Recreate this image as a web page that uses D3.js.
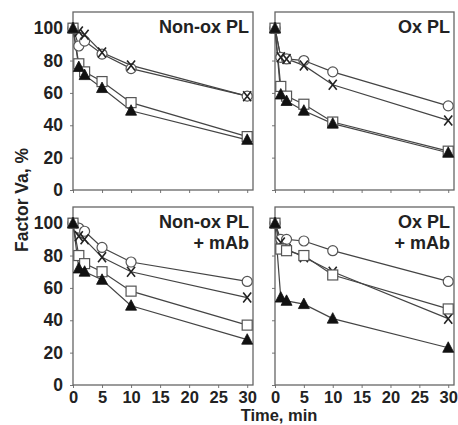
<!DOCTYPE html>
<html>
<head>
<meta charset="utf-8">
<script src="https://cdn.jsdelivr.net/npm/d3@7"></script>
<style>
  body { margin: 0; background: #fff; }
  svg text { font-family: "Liberation Sans", Arial, sans-serif; font-weight: bold; fill: #222; }
</style>
</head>
<body>
<script>
// time points (min)
const times = [0, 1, 2, 5, 10, 30];

const panelTitles = [["Non-ox PL"], ["Ox PL"], ["Non-ox PL", "+ mAb"], ["Ox PL", "+ mAb"]];

// Factor Va remaining, % — one array per marker per panel
const nonOxCircle   = [100, 89, 92, 84, 75, 58];
const nonOxX        = [100, 98, 96, 85, 77, 58];
const nonOxSquare   = [100, 78, 73, 67, 54, 33];
const nonOxTriangle = [100, 76, 71, 63, 49, 31];

const oxCircle   = [100, 82, 81, 80, 73, 52];
const oxX        = [100, 82, 81, 77, 65, 43];
const oxSquare   = [100, 64, 58, 53, 42, 24];
const oxTriangle = [100, 59, 55, 49, 41, 23];

const nonOxMabCircle   = [100, 97, 95, 85, 76, 64];
const nonOxMabX        = [100, 92, 90, 79, 70, 54];
const nonOxMabSquare   = [100, 80, 75, 70, 58, 37];
const nonOxMabTriangle = [100, 72, 70, 65, 49, 28];

const oxMabCircle   = [100, 90, 90, 89, 83, 64];
const oxMabX        = [100, 88, 84, 79, 70, 41];
const oxMabSquare   = [100, 84, 83, 80, 68, 47];
const oxMabTriangle = [100, 54, 52, 50, 41, 23];

const yTicks = [0, 20, 40, 60, 80, 100];
const xTicks = [0, 5, 10, 15, 20, 25, 30];

const panels = [
  {title: panelTitles[0], series: [nonOxCircle, nonOxX, nonOxSquare, nonOxTriangle]},
  {title: panelTitles[1], series: [oxCircle, oxX, oxSquare, oxTriangle]},
  {title: panelTitles[2], series: [nonOxMabCircle, nonOxMabX, nonOxMabSquare, nonOxMabTriangle]},
  {title: panelTitles[3], series: [oxMabCircle, oxMabX, oxMabSquare, oxMabTriangle]}
];
const markers = ["circle", "x", "square", "triangle"];

const width = 458, height = 425;
const cols = [[73, 253], [275, 454]];
const rows = [[12, 190], [207, 385]];
const ink = "#444";

const svg = d3.select("body").append("svg")
    .attr("width", width)
    .attr("height", height);

panels.forEach((p, i) => {
  const c = i % 2, r = Math.floor(i / 2);
  const x = d3.scaleLinear().domain([0, 31]).range(cols[c]);
  const y = d3.scaleLinear().domain([0, 110]).range([rows[r][1], rows[r][0]]);
  const g = svg.append("g");

  // x axis
  const xa = g.append("g")
      .attr("transform", "translate(0," + rows[r][1] + ")")
      .call(d3.axisBottom(x).tickValues(xTicks).tickSize(3).tickPadding(3)
        .tickFormat(r === 1 ? d3.format("d") : ""));
  xa.select(".domain").remove();
  xa.selectAll("line").attr("stroke", "#777");
  xa.selectAll("text").attr("font-size", 16.5).attr("fill", "#222");

  // y axis
  const ya = g.append("g")
      .attr("transform", "translate(" + cols[c][0] + ",0)")
      .call(d3.axisLeft(y).tickValues(yTicks).tickSize(3).tickPadding(7)
        .tickFormat(c === 0 ? d3.format("d") : ""));
  ya.select(".domain").remove();
  ya.selectAll("line").attr("stroke", "#777");
  ya.selectAll("text").attr("font-size", 17.5).attr("fill", "#222");

  // frame
  g.append("rect")
      .attr("x", cols[c][0]).attr("y", rows[r][0])
      .attr("width", cols[c][1] - cols[c][0])
      .attr("height", rows[r][1] - rows[r][0])
      .attr("fill", "none")
      .attr("stroke", "#666")
      .attr("stroke-width", 1.3);

  // title
  p.title.forEach((t, k) => {
    g.append("text")
        .attr("x", cols[c][1] - 4)
        .attr("y", rows[r][0] + 21 + k * 21)
        .attr("text-anchor", "end")
        .attr("font-size", 18)
        .text(t);
  });

  const line = d3.line().x((d, j) => x(times[j])).y(d => y(d));

  p.series.forEach(vals => {
    g.append("path")
        .datum(vals)
        .attr("d", line)
        .attr("fill", "none")
        .attr("stroke", ink)
        .attr("stroke-width", 1.2);
  });

  p.series.forEach((vals, s) => {
    const m = markers[s];
    const pts = g.append("g").selectAll("g")
      .data(vals)
      .join("g")
        .attr("transform", (d, j) => "translate(" + x(times[j]) + "," + y(d) + ")");
    if (m === "circle") {
      pts.append("circle").attr("r", 5)
          .attr("fill", "#fff").attr("stroke", "#555").attr("stroke-width", 1.2);
    } else if (m === "square") {
      pts.append("rect").attr("x", -5).attr("y", -5).attr("width", 10).attr("height", 10)
          .attr("fill", "#fff").attr("stroke", "#555").attr("stroke-width", 1.2);
    } else if (m === "triangle") {
      pts.append("path").attr("d", "M0,-6L5.5,4.5L-5.5,4.5Z")
          .attr("fill", "#111").attr("stroke", "#111").attr("stroke-width", 0.8);
    } else {
      pts.append("path").attr("d", "M-4,-5L4,5M4,-5L-4,5")
          .attr("fill", "none").attr("stroke", "#222").attr("stroke-width", 1.6);
    }
  });
});

// axis titles
svg.append("text")
    .attr("transform", "translate(28,200) rotate(-90)")
    .attr("text-anchor", "middle")
    .attr("font-size", 17.5)
    .text("Factor Va, %");

svg.append("text")
    .attr("x", 279)
    .attr("y", 420.5)
    .attr("text-anchor", "middle")
    .attr("font-size", 16.5)
    .text("Time, min");
</script>
</body>
</html>
